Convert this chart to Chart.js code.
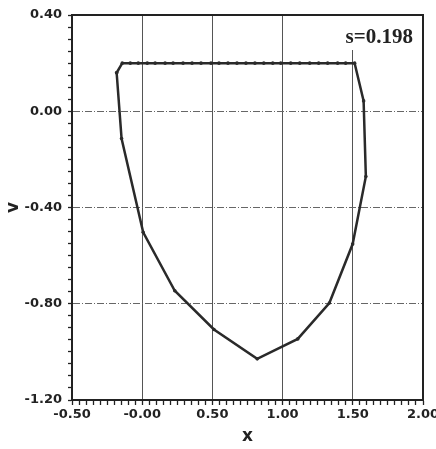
<!DOCTYPE html>
<html>
<head>
<meta charset="utf-8">
<script src="https://cdn.jsdelivr.net/npm/chart.js@4/dist/chart.umd.min.js"></script>
<style>
html,body{margin:0;padding:0;background:#fff;overflow:hidden;}
canvas{display:block;}
</style>
</head>
<body>
<canvas id="c" width="436" height="449"></canvas>
<script>
// ---- data ----
const curveX = [-0.182, -0.142, -0.085, -0.028, 0.036, 0.092, 0.163, 0.220, 0.291, 0.355, 0.419, 0.490, 0.547, 0.611, 0.675, 0.739, 0.803, 0.866, 0.930, 0.987, 1.058, 1.122, 1.193, 1.257, 1.321, 1.392, 1.449, 1.513, 1.577, 1.593, 1.499, 1.333, 1.108, 0.819, 0.511, 0.232, 0.007, -0.147, -0.182];
const curveY = [0.160, 0.200, 0.200, 0.200, 0.200, 0.200, 0.200, 0.200, 0.200, 0.200, 0.200, 0.200, 0.200, 0.200, 0.200, 0.200, 0.200, 0.200, 0.200, 0.200, 0.200, 0.200, 0.200, 0.200, 0.200, 0.200, 0.200, 0.200, 0.043, -0.271, -0.552, -0.797, -0.946, -1.029, -0.907, -0.746, -0.503, -0.113, 0.160];
const xMajorTicks = [-0.5, 0, 0.5, 1.0, 1.5, 2.0];
const xTickLabels = ['-0.50', '-0.00', '0.50', '1.00', '1.50', '2.00'];
const yMajorTicks = [-1.2, -0.8, -0.4, 0, 0.4];
const yTickLabels = ['-1.20', '-0.80', '-0.40', '0.00', '0.40'];
const xTitle = 'x';
const yTitle = 'v';
const annotationText = 's=0.198';

const points = curveX.map((x, i) => ({x: x, y: curveY[i]}));

function majorIndex(list, v) {
  for (let i = 0; i < list.length; i++) if (Math.abs(list[i] - v) < 1e-6) return i;
  return -1;
}
const INK = '#222';
const tickFont = {family: 'DejaVu Sans', weight: 'bold', size: 13};

const framePlugin = {
  id: 'frame',
  beforeDraw(chart) {
    const ctx = chart.ctx;
    ctx.save();
    ctx.fillStyle = '#fff';
    ctx.fillRect(0, 0, chart.width, chart.height);
    ctx.restore();
  },
  afterDatasetsDraw(chart) {
    const {ctx, chartArea: a} = chart;
    ctx.save();
    // label box with white background
    ctx.font = 'bold 21px "Liberation Serif"';
    ctx.textAlign = 'right';
    ctx.textBaseline = 'alphabetic';
    const tw = ctx.measureText(annotationText).width;
    ctx.fillStyle = '#fff';
    ctx.fillRect(a.right - 10 - tw - 4, a.top + 1, tw + 8, 34);
    ctx.fillStyle = INK;
    ctx.fillText(annotationText, a.right - 10, a.top + 28);
    // frame
    ctx.strokeStyle = INK;
    ctx.lineWidth = 2;
    ctx.strokeRect(a.left, a.top, a.right - a.left, a.bottom - a.top);
    ctx.restore();
  }
};

new Chart(document.getElementById('c'), {
  type: 'line',
  data: {
    datasets: [{
      data: points,
      borderColor: '#2a2a2a',
      backgroundColor: '#2a2a2a',
      borderWidth: 2.5,
      pointRadius: 1.8,
      pointHoverRadius: 1.8,
      pointBorderWidth: 0,
      tension: 0,
      fill: false
    }]
  },
  options: {
    responsive: false,
    animation: false,
    events: [],
    layout: {padding: {top: 15, right: 13, bottom: 0, left: 0}},
    plugins: {legend: {display: false}, tooltip: {enabled: false}},
    scales: {
      x: {
        type: 'linear',
        min: -0.5, max: 2.0,
        afterFit(s) { s.height = 49; s.paddingLeft = 0; s.paddingRight = 0; },
        border: {display: true, color: INK, width: 2},
        grid: {
          color: (c) => (c.tick && majorIndex(xMajorTicks, c.tick.value) >= 0) ? '#555' : 'rgba(0,0,0,0)',
          lineWidth: 1,
          tickColor: INK,
          tickWidth: 1.3,
          tickLength: 5,
          drawTicks: true
        },
        ticks: {
          stepSize: 0.05,
          autoSkip: false,
          maxRotation: 0,
          minRotation: 0,
          padding: 2,
          color: INK,
          font: tickFont,
          callback: (v) => { const i = majorIndex(xMajorTicks, v); return i >= 0 ? xTickLabels[i] : ''; }
        },
        title: {display: true, text: xTitle, color: INK, font: {family: 'DejaVu Sans', weight: 'bold', size: 17}, padding: {top: 0, bottom: 2}}
      },
      y: {
        type: 'linear',
        min: -1.2, max: 0.4,
        afterFit(s) { s.width = 72; s.paddingTop = 0; s.paddingBottom = 0; },
        border: {display: true, color: INK, width: 2, dash: [7, 2, 1, 2]},
        grid: {
          color: (c) => (c.tick && majorIndex(yMajorTicks, c.tick.value) >= 0) ? '#666' : 'rgba(0,0,0,0)',
          lineWidth: 1,
          tickColor: INK,
          tickWidth: 1.3,
          tickLength: 4,
          tickBorderDash: [],
          drawTicks: true
        },
        ticks: {
          stepSize: 0.05,
          autoSkip: false,
          padding: 6,
          color: INK,
          font: tickFont,
          callback: (v) => { const i = majorIndex(yMajorTicks, v); return i >= 0 ? yTickLabels[i] : ''; }
        },
        title: {display: true, text: yTitle, color: INK, font: {family: 'DejaVu Sans', weight: 'bold', size: 17}, padding: {top: 3, bottom: 0}}
      }
    }
  },
  plugins: [framePlugin]
});
</script>
</body>
</html>
